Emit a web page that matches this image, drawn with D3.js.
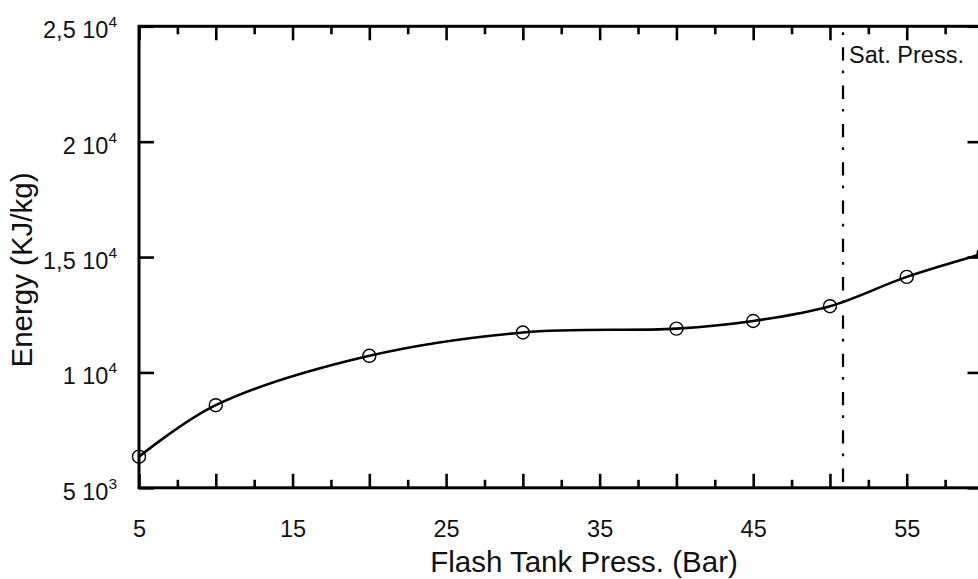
<!DOCTYPE html>
<html>
<head>
<meta charset="utf-8">
<script src="https://cdn.jsdelivr.net/npm/d3@7"></script>
<style>
  html, body { margin: 0; padding: 0; background: #fff; }
  svg { display: block; font-family: "Liberation Sans", Arial, sans-serif; }
</style>
</head>
<body>
<svg id="chart" width="978" height="579"></svg>
<script>
// ---- data ----
const pressure = [5, 10, 20, 30, 40, 45, 50, 55, 60];
const energy = [6350, 8580, 10720, 11730, 11900, 12230, 12870, 14140, 15150];
const satPressure = 50.85;
const satLabel = "Sat. Press.";
const xMajorTicks = [5, 10, 15, 20, 25, 30, 35, 40, 45, 50, 55, 60];
const xMinorTicks = [7.5, 12.5, 17.5, 22.5, 27.5, 32.5, 37.5, 42.5, 47.5, 52.5, 57.5];
const xTickLabels = [5, 15, 25, 35, 45, 55];
const yTicks = [5000, 10000, 15000, 20000, 25000];
const yTickMant = ["5", "1", "1,5", "2", "2,5"];
const yTickExp = ["3", "4", "4", "4", "4"];
const xTitle = "Flash Tank Press. (Bar)";
const yTitle = "Energy (KJ/kg)";

// ---- layout ----
const L = 139, R = 983.5, T = 26.3, B = 487.8;
const svg = d3.select("#chart");
const x = d3.scaleLinear().domain([5, 60]).range([L, R]);
const y = d3.scaleLinear().domain([5000, 25000]).range([B, T]);

// bottom axis: major ticks (inward) with labels
const bottomMajor = d3.axisBottom(x).tickValues(xMajorTicks).tickSizeInner(-14).tickSizeOuter(0)
  .tickPadding(33).tickFormat(d => xTickLabels.includes(d) ? String(d) : "");
const gb = svg.append("g").attr("transform", `translate(0,${B})`).call(bottomMajor);
const bottomMinor = d3.axisBottom(x).tickValues(xMinorTicks).tickSizeInner(-8).tickSizeOuter(0).tickFormat("");
const gbm = svg.append("g").attr("transform", `translate(0,${B})`).call(bottomMinor);

// top axis
const topMajor = d3.axisTop(x).tickValues(xMajorTicks).tickSizeInner(-14).tickSizeOuter(0).tickFormat("");
const gt = svg.append("g").attr("transform", `translate(0,${T})`).call(topMajor);
const topMinor = d3.axisTop(x).tickValues(xMinorTicks).tickSizeInner(-8).tickSizeOuter(0).tickFormat("");
const gtm = svg.append("g").attr("transform", `translate(0,${T})`).call(topMinor);

// left axis
const leftAx = d3.axisLeft(y).tickValues(yTicks).tickSizeInner(-15).tickSizeOuter(0).tickFormat("");
const gl = svg.append("g").attr("transform", `translate(${L},0)`).call(leftAx);
// right axis
const rightAx = d3.axisRight(y).tickValues(yTicks).tickSizeInner(-16).tickSizeOuter(0).tickFormat("");
const gr = svg.append("g").attr("transform", `translate(${R},0)`).call(rightAx);

[gb, gbm, gt, gtm, gl, gr].forEach(g => {
  g.select(".domain").remove();
  g.selectAll(".tick line").attr("stroke", "#000").attr("stroke-width", 2.6);
});
gb.selectAll(".tick text").attr("font-size", 23.5).attr("fill", "#111")
  .attr("font-family", "'Liberation Sans', Arial, sans-serif");

// y tick labels with superscript exponents
yTicks.forEach((v, i) => {
  const t = svg.append("text")
    .attr("x", 117).attr("y", y(v) + 12)
    .attr("text-anchor", "end").attr("font-size", 23.5).attr("fill", "#111");
  t.append("tspan").text(yTickMant[i] + " 10");
  t.append("tspan").attr("dy", -11).attr("font-size", 15.5).text(yTickExp[i]);
});

// frame
svg.append("rect").attr("x", L).attr("y", T).attr("width", R - L).attr("height", B - T)
  .attr("fill", "none").attr("stroke", "#000").attr("stroke-width", 3);

// saturation line
svg.append("line")
  .attr("x1", x(satPressure)).attr("x2", x(satPressure))
  .attr("y1", T + 6).attr("y2", B - 2)
  .attr("stroke", "#000").attr("stroke-width", 2.2)
  .attr("stroke-dasharray", "2.7 12.3 13.3 10");
svg.append("text").attr("x", x(satPressure) + 6).attr("y", 63)
  .attr("font-size", 23.5).attr("fill", "#111").text(satLabel);

// curve
const pts = pressure.map((p, i) => [p, energy[i]]);
svg.append("path").datum(pts)
  .attr("d", d3.line().x(d => x(d[0])).y(d => y(d[1])).curve(d3.curveCatmullRom.alpha(0.5)))
  .attr("fill", "none").attr("stroke", "#000").attr("stroke-width", 2.6);

// markers
svg.append("g").selectAll("circle").data(pts).join("circle")
  .attr("cx", d => x(d[0])).attr("cy", d => y(d[1])).attr("r", 6.5)
  .attr("fill", "none").attr("stroke", "#000").attr("stroke-width", 1.4);

// axis titles
svg.append("text").attr("x", 584).attr("y", 572).attr("text-anchor", "middle")
  .attr("font-size", 29.5).attr("fill", "#111").text(xTitle);
svg.append("text").attr("transform", "translate(32,270) rotate(-90)")
  .attr("text-anchor", "middle").attr("font-size", 29.5).attr("fill", "#111").text(yTitle);
</script>
</body>
</html>
